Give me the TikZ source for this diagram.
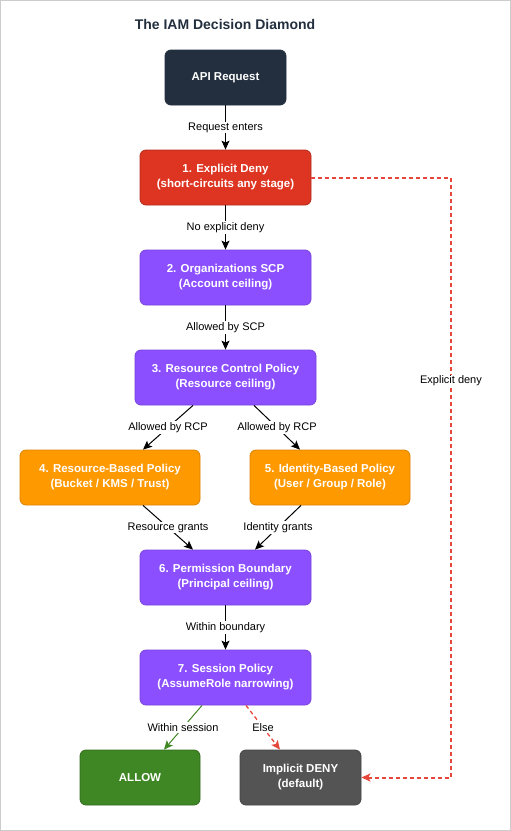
\documentclass[tikz,border=0pt]{standalone}
\usepackage{fontspec}
\setmainfont{Liberation Sans}
\usetikzlibrary{arrows.meta}
\definecolor{navy}{HTML}{232F3E}
\definecolor{denyred}{HTML}{DD3522}
\definecolor{dashred}{HTML}{E5483A}
\definecolor{purp}{HTML}{8C4FFF}
\definecolor{orng}{HTML}{FF9900}
\definecolor{grn}{HTML}{3F8624}
\definecolor{darkgray}{HTML}{545454}
\tikzset{
  box/.style={rounded corners=6pt, minimum height=55pt, align=center, text=white,
    font=\fontsize{11.5}{15}\selectfont\bfseries, line width=0.8pt},
  lbl/.style={fill=white, inner sep=1pt, font=\fontsize{11}{13}\selectfont},
  arr/.style={line width=1pt, -{Stealth[length=9pt,width=8pt,inset=2pt]}},
  denyline/.style={arr, draw=dashred, line width=2pt, dash pattern=on 4pt off 3pt}
}
\begin{document}
\begin{tikzpicture}[x=1pt, y=-1pt]
\useasboundingbox (0,0) rectangle (511,831);
\draw[black!20, line width=1pt] (0.5,0.5) rectangle (510.5,830.5);
\node[font=\fontsize{14}{16}\selectfont\bfseries, text=navy] (title) at (225,24) {The IAM Decision Diamond};
% stages
\node[box, fill=navy, draw=navy, minimum width=121pt] (api) at (225.5,77.5) {API Request};
\node[box, fill=denyred, draw=denyred!80!black, minimum width=171pt] (deny) at (225.5,177.5) {1. Explicit Deny\\(short-circuits any stage)};
\node[box, fill=purp, draw=purp!85!black, minimum width=171pt] (scp) at (225.5,277.5) {2. Organizations SCP\\(Account ceiling)};
\node[box, fill=purp, draw=purp!85!black, minimum width=181pt] (rcp) at (225.5,377.5) {3. Resource Control Policy\\(Resource ceiling)};
\node[box, fill=orng, draw=orng!85!black, minimum width=180pt] (resb) at (110,477.5) {4. Resource-Based Policy\\(Bucket / KMS / Trust)};
\node[box, fill=orng, draw=orng!85!black, minimum width=160pt] (idb) at (330,477.5) {5. Identity-Based Policy\\(User / Group / Role)};
\node[box, fill=purp, draw=purp!85!black, minimum width=171pt] (pb) at (225.5,577.5) {6. Permission Boundary\\(Principal ceiling)};
\node[box, fill=purp, draw=purp!85!black, minimum width=171pt] (sess) at (225.5,677.5) {7. Session Policy\\(AssumeRole narrowing)};
\node[box, fill=grn, draw=grn!80!black, minimum width=120pt] (allow) at (140,777.5) {ALLOW};
\node[box, fill=darkgray, draw=darkgray!80!black, minimum width=121pt] (impl) at (300.5,777.5) {Implicit DENY\\(default)};
\coordinate (turn) at (451,0);
% flow
\draw[arr] (api) -- node[lbl]{Request enters} (deny);
\draw[arr] (deny) -- node[lbl]{No explicit deny} (scp);
\draw[arr] (scp) -- node[lbl]{Allowed by SCP} (rcp);
\draw[arr] ([xshift=-32.5pt]rcp.south) -- node[lbl]{Allowed by RCP} ([xshift=33pt]resb.north);
\draw[arr] ([xshift=28.5pt]rcp.south) -- node[lbl]{Allowed by RCP} ([xshift=-30pt]idb.north);
\draw[arr] ([xshift=33pt]resb.south) -- node[lbl]{Resource grants} ([xshift=-32.5pt]pb.north);
\draw[arr] ([xshift=-29pt]idb.south) -- node[lbl]{Identity grants} ([xshift=29.5pt]pb.north);
\draw[arr] (pb) -- node[lbl]{Within boundary} (sess);
\draw[arr, grn] ([xshift=-23.5pt]sess.south) -- node[lbl, text=black]{Within session} ([xshift=24pt]allow.north);
\draw[denyline, line width=1.3pt] ([xshift=20.5pt]sess.south) -- node[lbl]{Else} ([xshift=-20.5pt]impl.north);
\draw[denyline] (deny.east) -- (deny.east -| turn) |- (impl.east);
\node[lbl] (xdeny) at (451,381) {Explicit deny};
\end{tikzpicture}
\end{document}
